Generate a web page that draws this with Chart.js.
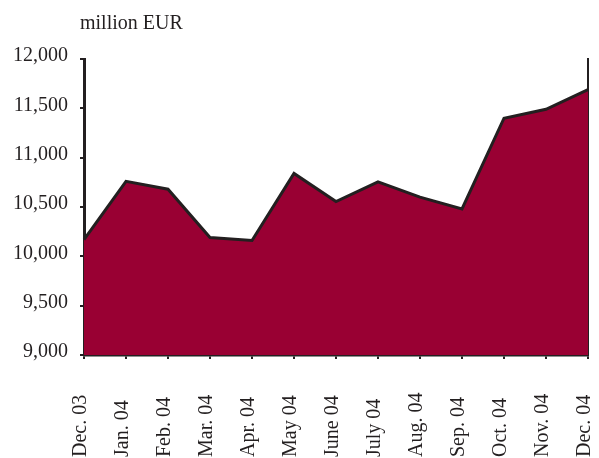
<!DOCTYPE html>
<html>
<head>
<meta charset="utf-8">
<script src="https://cdn.jsdelivr.net/npm/chart.js@4/dist/chart.umd.min.js"></script>
<style>
  html, body { margin: 0; padding: 0; background: #fff; }
  #wrap { width: 599px; height: 458px; }
</style>
</head>
<body>
<div id="wrap"><canvas id="c"></canvas></div>
<script>
// ── Data ─────────────────────────
const months = ['Dec. 03', 'Jan. 04', 'Feb. 04', 'Mar. 04', 'Apr. 04', 'May 04', 'June 04',
                'July 04', 'Aug. 04', 'Sep. 04', 'Oct. 04', 'Nov. 04', 'Dec. 04'];
const assets = [10170, 10760, 10680, 10190, 10160, 10840, 10555, 10755, 10600, 10480, 11400, 11490, 11690];
const yTicks = [9000, 9500, 10000, 10500, 11000, 11500, 12000];
const unitLabel = 'million EUR';

const ink = '#231f20';
const serif = 'Liberation Serif, Times New Roman, serif';

// draws the unit label and the bottom-anchored rotated month labels
const labelsPlugin = {
  id: 'labels',
  afterDraw(chart) {
    const ctx = chart.ctx;
    const x = chart.scales.x;
    ctx.save();
    ctx.fillStyle = ink;
    ctx.font = '20px ' + serif;
    ctx.textAlign = 'left';
    ctx.textBaseline = 'alphabetic';
    ctx.fillText(unitLabel, 80, 29);

    ctx.textBaseline = 'middle';
    months.forEach((m, i) => {
      ctx.save();
      ctx.translate(x.getPixelForTick(i) - 3, 457);
      ctx.rotate(-Math.PI / 2);
      ctx.fillText(m, 0, 0);
      ctx.restore();
    });
    ctx.restore();
  }
};

new Chart(document.getElementById('c'), {
  type: 'line',
  data: {
    labels: months,
    datasets: [{
      data: assets,
      borderColor: ink,
      borderWidth: 3,
      backgroundColor: '#990033',
      fill: 'start',
      tension: 0,
      pointRadius: 0,
    }]
  },
  options: {
    responsive: true,
    maintainAspectRatio: false,
    animation: false,
    layout: { padding: { top: 59, right: 3, bottom: 99, left: 0 } },
    plugins: {
      legend: { display: false },
      tooltip: { enabled: false },
    },
    scales: {
      x: {
        ticks: { display: false },
        grid: { drawOnChartArea: false, tickLength: 4, color: ink, lineWidth: 2 },
        border: { color: ink, width: 2.5 },
      },
      y: {
        min: 9000,
        max: 12000,
        afterBuildTicks: s => { s.ticks = yTicks.map(v => ({ value: v })); },
        afterFit: s => { s.width = 84; },
        ticks: {
          color: ink,
          padding: 12,
          labelOffset: -3,
          font: { family: serif, size: 20 },
          callback: v => v.toLocaleString('en-US'),
        },
        grid: { drawOnChartArea: false, tickLength: 4, color: ink, lineWidth: 2 },
        border: { color: ink, width: 3 },
      },
      y1: {
        position: 'right',
        min: 9000,
        max: 12000,
        ticks: { display: false },
        grid: { display: false },
        border: { color: ink, width: 2 },
      }
    }
  },
  plugins: [labelsPlugin]
});
</script>
</body>
</html>
